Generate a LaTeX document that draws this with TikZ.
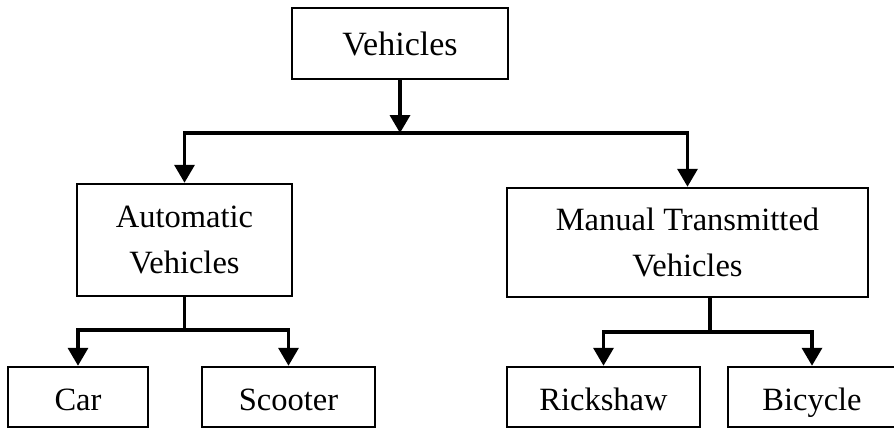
\documentclass[tikz,border=0pt]{standalone}
\usepackage{fontspec}
\setmainfont{Liberation Serif}
\usetikzlibrary{arrows.meta,positioning}
\begin{document}
\begin{tikzpicture}[x=1pt, y=-1pt,
    box/.style={draw, line width=2.5pt, align=center, inner sep=0pt,
        font=\fontsize{32.5}{46}\selectfont},
    leaf/.style={box, minimum height=60pt, text height=28pt, text depth=2pt},
    bar/.style={line width=3.5pt},
    link/.style={bar, -{Triangle[width=20pt,length=18pt]}}]
    \useasboundingbox (0,0) rectangle (894,429);

    % Top level
    \node[box, minimum width=216pt, minimum height=71pt,
        font=\fontsize{34}{46}\selectfont] (veh) at (400,43.5) {Vehicles};

    % Second level
    \node[box, minimum width=215pt, minimum height=112pt] (auto) at (184.5,240) {Automatic\\Vehicles};
    \node[box, minimum width=361pt, minimum height=109pt] (manual) at (687.5,242.5) {Manual Transmitted\\Vehicles};

    % Leaves
    \node[leaf, minimum width=140pt] (car) at (78,397) {Car};
    \node[leaf, minimum width=173pt] (scooter) at (288.5,397) {Scooter};
    \node[leaf, minimum width=193pt] (rick) at (603.5,397) {Rickshaw};
    \node[leaf, minimum width=168pt] (bike) at (812,397) {Bicycle};

    % Junction points
    \coordinate (vjoin) at (400,133);
    \coordinate (ajoin) at (184.5,330);
    \coordinate (mjoin) at (710,332);

    % Connectors
    \draw[link] (veh.south) -- (vjoin);
    \draw[link] (vjoin) -| (auto.north);
    \draw[link] (vjoin) -| (manual.north);

    \draw[bar] (auto.south) -- (ajoin);
    \draw[link] (ajoin) -| (car.north);
    \draw[link] (ajoin) -| (scooter.north);

    \draw[bar] (manual.south -| mjoin) -- (mjoin);
    \draw[link] (mjoin) -| (rick.north);
    \draw[link] (mjoin) -| (bike.north);

\end{tikzpicture}
\end{document}
